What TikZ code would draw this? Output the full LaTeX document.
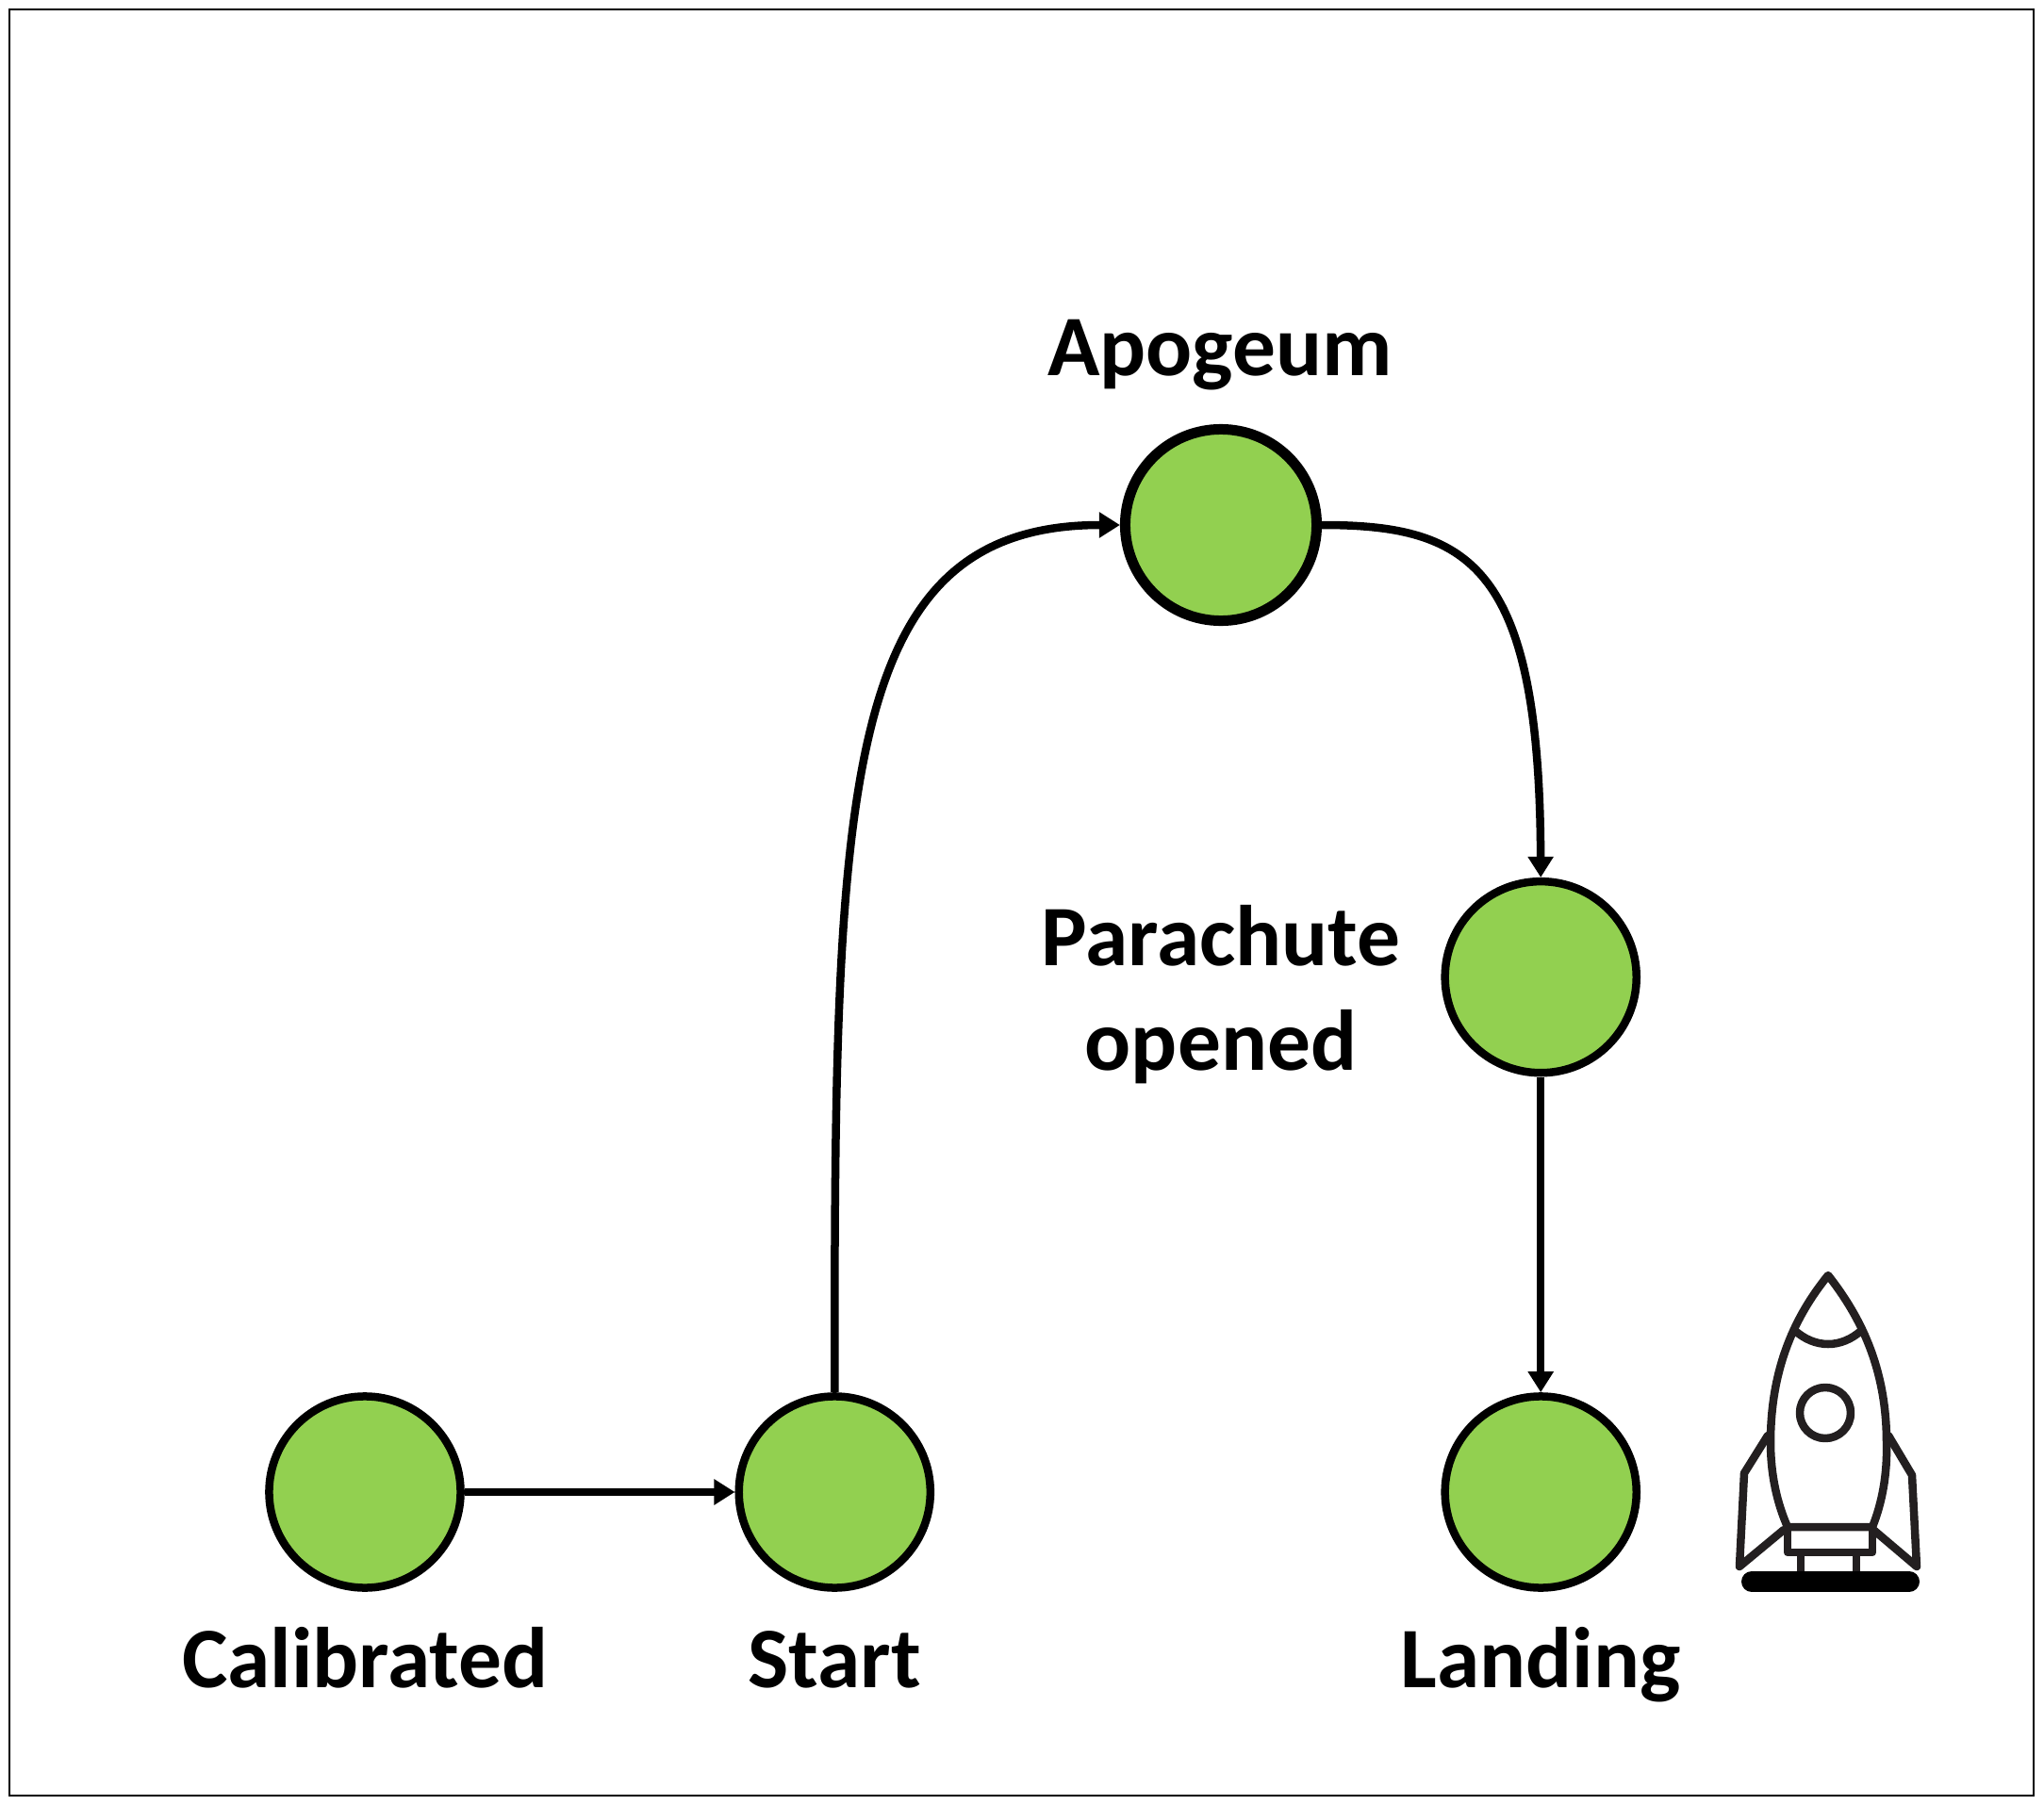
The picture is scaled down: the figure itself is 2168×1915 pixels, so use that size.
\documentclass[tikz,border=0pt]{standalone}
\usepackage{fontspec}
\setmainfont{Carlito}
\usetikzlibrary{arrows.meta,positioning}
\definecolor{stategreen}{HTML}{92D050}
\definecolor{rocketink}{HTML}{231F20}

\begin{document}
\begin{tikzpicture}[
  x=0.01cm, y=-0.01cm,
  on grid,
  font=\fontsize{26pt}{31.5pt}\selectfont\bfseries,
  state/.style={draw, circle, fill=stategreen, line width=0.85mm, minimum size=20.3mm, inner sep=0pt},
  statetext/.style={align=center, inner sep=0pt},
  arrow/.style={-{Triangle[length=2.2mm,width=2.6mm]}, line width=0.85mm},
  rocket/.style={draw=rocketink, line width=0.85mm, line join=round, line cap=round}
]
\useasboundingbox (0,0) rectangle (2168,1915);
\draw[line width=0.2mm] (10,10) rectangle (2157,1905);

\node[state] (calibrated) at (387,1583) {};
\node[state, right=4.98cm of calibrated] (start) {};
\node[state, right=7.485cm of start] (landing) {};
\node[state, above=5.46cm of landing] (parachute) {};
\node[state, line width=1.1mm] (apogeum) at (1295,557) {};

\node[statetext, anchor=base] (calibratedtext) at (387,1790) {Calibrated};
\node[statetext, anchor=base] (starttext) at (885,1790) {Start};
\node[statetext, anchor=base] (landingtext) at (1634,1790) {Landing};
\node[statetext] (parachutetext) at (1295,1055) {Parachute\\opened};
\node[statetext, anchor=base] (apogeumtext) at (1294,398) {Apogeum};

\draw[arrow] (calibrated) -- (start);
\draw[arrow] (start.north) .. controls (885,840) and (890,557) .. (apogeum.west);
\draw[arrow] (apogeum.east) .. controls (1560,557) and (1633,600) .. (parachute.north);
\draw[arrow] (parachute) -- (landing);

% rocket
\draw[rocket] (1939,1353) .. controls (1905,1395) and (1878,1450) .. (1878,1530)
  .. controls (1878,1565) and (1885,1595) .. (1896,1620) -- (1986,1620)
  .. controls (1996,1595) and (2002,1565) .. (2001,1530)
  .. controls (2001,1450) and (1972,1395) .. (1939,1353) -- cycle;
\draw[rocket] (1903,1411) .. controls (1925,1431) and (1953,1431) .. (1975,1411);
\draw[rocket] (1936,1499) circle (27);
\draw[rocket] (1896,1620) rectangle (1986,1647);
\draw[rocket] (1910,1647) rectangle (1969,1676);
\draw[rocket] (1875,1523) -- (1850,1563) -- (1845,1662) -- (1892,1623);
\draw[rocket] (2003,1523) -- (2028,1565) -- (2033,1662) -- (1987,1623);
\draw[line width=2.2mm, line cap=round] (1858,1678) -- (2025,1678);
\end{tikzpicture}
\end{document}
